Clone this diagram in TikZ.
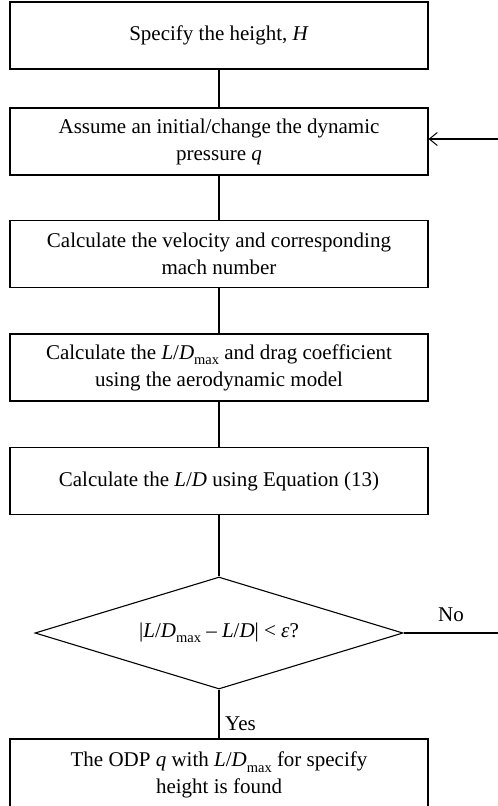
\documentclass[tikz,border=0pt]{standalone}
\usepackage{fontspec}
\setmainfont{Liberation Serif}
\usetikzlibrary{shapes.geometric,arrows.meta}
% lowered, smaller subscript set in the text font
\newcommand\subtx[1]{\raisebox{-0.26em}{\fontsize{14.5}{14.5}\selectfont #1}}
\newcommand\LDmax{\textit{L}/\textit{D}\subtx{max}}
\begin{document}
\begin{tikzpicture}[x=1pt,y=-1pt,
  txt/.style={font=\fontsize{21}{27}\selectfont},
  stepbox/.style={txt,draw,line width=1.1pt,minimum width=418pt,minimum height=67pt,
    inner sep=0pt,align=center},
  decision/.style={txt,draw,line width=1.1pt,diamond,aspect=3.29,minimum width=368pt,
    minimum height=112pt,inner sep=0pt,align=center},
  link/.style={line width=1.1pt},
  lbl/.style={txt,inner sep=0pt}]
\useasboundingbox (0,0) rectangle (498,806);

\node[stepbox] (b1) at (219,35.5) {Specify the height, \textit{H}};
\node[stepbox] (b2) at (219,141.5) {Assume an initial/change the dynamic\\pressure \textit{q}};
\node[stepbox] (b3) at (219,254) {Calculate the velocity and corresponding\\mach number};
\node[stepbox] (b4) at (219,367.5) {Calculate the \LDmax{} and drag coefficient\\using the aerodynamic model};
\node[stepbox] (b5) at (219,481) {Calculate the \textit{L}/\textit{D} using Equation (13)};
\node[decision] (d) at (219,633) {|\LDmax{} – \textit{L}/\textit{D}| < \textit{ε}?};
\node[stepbox,minimum height=72pt] (b6) at (219,775) {The ODP \textit{q} with \LDmax{} for specify\\height is found};

% main flow
\draw[link] (b1) -- (b2);
\draw[link] (b2) -- (b3);
\draw[link] (b3) -- (b4);
\draw[link] (b4) -- (b5);
\draw[link] (b5) -- (d);
\draw[link] (d) -- (b6);

% loop back when the test fails
\coordinate (fbA) at (505,633);
\coordinate (fbB) at (505,139);
\draw[link,-{Straight Barb[length=8pt,width=13pt,line width=1pt]}]
  (d.east) -- (fbA) -- (fbB) -- (b2.east |- fbB);

\node[lbl] (no) at (451,615) {No};
\node[lbl] (yes) at (240.5,723.5) {Yes};
\end{tikzpicture}
\end{document}
